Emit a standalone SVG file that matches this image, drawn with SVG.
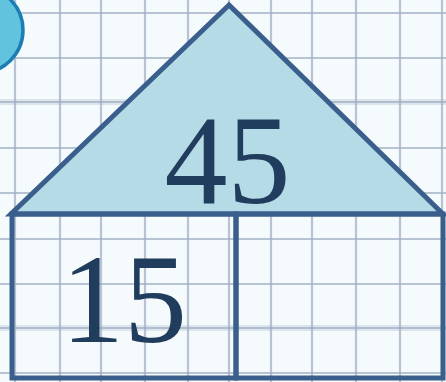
<svg xmlns="http://www.w3.org/2000/svg" width="446" height="382" viewBox="0 0 446 382">
  <style>
    .grid line { stroke: #9eadc2; stroke-width: 2.2; opacity: 0.7; }
    .grid line.soft { stroke: #c9d3df; stroke-width: 6; opacity: 0.55; }
    .shape { stroke: #3a5f8c; stroke-width: 5; stroke-linejoin: miter; }
    .num { font-family: "Liberation Serif", "Times New Roman", serif; font-size: 126px; fill: #213d5e; }
  </style>
  <rect x="0" y="0" width="446" height="382" fill="#f5fafd"/>
  <g class="grid">
    <line class="soft" x1="0" y1="102" x2="446" y2="102"/>
    <line class="soft" x1="0" y1="328" x2="446" y2="328"/>
    <line x1="15" y1="0" x2="15" y2="382"/>
    <line x1="60" y1="0" x2="60" y2="382"/>
    <line x1="101" y1="0" x2="101" y2="382"/>
    <line x1="145" y1="0" x2="145" y2="382"/>
    <line x1="188" y1="0" x2="188" y2="382"/>
    <line x1="229" y1="0" x2="229" y2="382"/>
    <line x1="271" y1="0" x2="271" y2="382"/>
    <line x1="312" y1="0" x2="312" y2="382"/>
    <line x1="356" y1="0" x2="356" y2="382"/>
    <line x1="400" y1="0" x2="400" y2="382"/>
    <line x1="442" y1="0" x2="442" y2="382"/>
    <line x1="0" y1="13" x2="446" y2="13"/>
    <line x1="0" y1="58" x2="446" y2="58"/>
    <line x1="0" y1="102" x2="446" y2="102"/>
    <line x1="0" y1="148" x2="446" y2="148"/>
    <line x1="0" y1="193" x2="446" y2="193"/>
    <line x1="0" y1="239" x2="446" y2="239"/>
    <line x1="0" y1="284" x2="446" y2="284"/>
    <line x1="0" y1="328" x2="446" y2="328"/>
    <line x1="0" y1="373" x2="446" y2="373"/>
  </g>
  <g id="badge">
    <circle cx="-20" cy="30" r="43" fill="#62c3df" stroke="#1b7db4" stroke-width="3.5"/>
  </g>
  <g id="roof">
    <polygon class="shape" points="229,5 11,214 443,214" fill="#b5dbe6"/>
    <text class="num" x="164.5" y="203">45</text>
  </g>
  <g id="cell-left">
    <rect class="shape" x="12" y="214" width="224" height="164" fill="none"/>
    <text class="num" x="61" y="342">15</text>
  </g>
  <g id="cell-right">
    <rect class="shape" x="236" y="214" width="207" height="164" fill="none"/>
  </g>
</svg>
